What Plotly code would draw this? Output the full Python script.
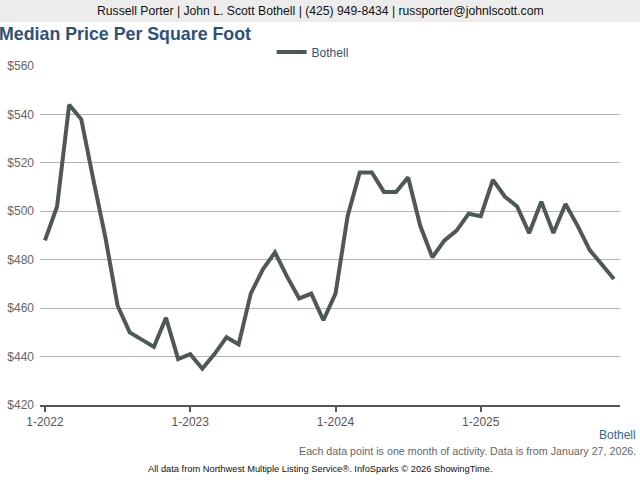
import plotly.graph_objects as go

months = [f"{m}-{y}" for y in range(2022, 2026) for m in range(1, 13)]
prices = [488, 502, 544, 538, 513, 489, 461, 450, 447, 444, 456, 439,
          441, 435, 441, 448, 445, 466, 476, 483, 473, 464, 466, 455,
          466, 498, 516, 516, 508, 508, 514, 494, 481, 488, 492, 499,
          498, 513, 506, 502, 491, 504, 491, 503, 494, 484, 478, 472]
tick_labels = ["1-2022", "1-2023", "1-2024", "1-2025"]
y_ticks = [420, 440, 460, 480, 500, 520, 540, 560]

idx = list(range(len(months)))
tick_idx = [months.index(t) for t in tick_labels]

fig = go.Figure()
fig.add_trace(go.Scatter(
    x=idx, y=prices, mode="lines", name="Bothell",
    line=dict(color="#4e5955", width=4),
    text=months, hovertemplate="%{text}: $%{y}<extra></extra>",
))

font = "Liberation Sans, Arial, sans-serif"
fig.update_layout(
    width=640, height=480,
    margin=dict(l=40, r=20, t=66, b=75, autoexpand=False),
    paper_bgcolor="white", plot_bgcolor="white",
    font=dict(family=font, size=12, color="#555555"),
    showlegend=True,
    legend=dict(orientation="h", x=0.47, xanchor="center", y=1.041, yanchor="middle",
                font=dict(size=12, color="#2f5179"), bgcolor="rgba(0,0,0,0)"),
    xaxis=dict(range=[-0.41, 47.5], tickvals=tick_idx, ticktext=tick_labels,
               showgrid=False, zeroline=False, showline=True, linecolor="#555555",
               linewidth=2, ticks="outside", ticklen=5, tickwidth=2, tickcolor="#555555",
               tickfont=dict(size=12, color="#555555"), automargin=False),
    yaxis=dict(range=[420, 560], tickvals=y_ticks,
               ticktext=[f"${v}" for v in y_ticks],
               showgrid=True, gridcolor="#b4b4b4", gridwidth=1, zeroline=False,
               showline=False, ticks="", tickfont=dict(size=12, color="#666666"),
               ticklabelstandoff=5, automargin=False),
    shapes=[dict(type="rect", xref="paper", yref="paper", x0=-0.07, x1=1.04,
                 y0=1.1298, y1=1.2, fillcolor="#ececec", line=dict(width=0), layer="below")],
    annotations=[
        dict(text="Russell Porter | John L. Scott Bothell | (425) 949-8434 | russporter@johnlscott.com",
             xref="paper", yref="paper", x=0.4828, y=1.1623, xanchor="center", yanchor="middle",
             showarrow=False, font=dict(size=12.2, color="#111111")),
        dict(text="<b>Median Price Per Square Foot</b>", xref="paper", yref="paper",
             x=-0.074, y=1.0944, xanchor="left", yanchor="middle", showarrow=False,
             font=dict(size=17.8, color="#2f5179")),
        dict(text="Bothell", xref="paper", yref="paper", x=1.031, y=-0.0885,
             xanchor="right", yanchor="middle", showarrow=False,
             font=dict(size=12, color="#3c6496")),
        dict(text="Each data point is one month of activity. Data is from January 27, 2026.",
             xref="paper", yref="paper", x=1.031, y=-0.1357, xanchor="right", yanchor="middle",
             showarrow=False, font=dict(size=10.7, color="#666666")),
        dict(text="All data from Northwest Multiple Listing Service®. InfoSparks © 2026 ShowingTime.",
             xref="paper", yref="paper", x=0.4828, y=-0.189, xanchor="center", yanchor="middle",
             showarrow=False, font=dict(size=9.3, color="#111111")),
    ],
)

fig.write_html("out.html", config={"displayModeBar": False},
               post_script="document.body.style.margin='0';document.body.style.overflow='hidden';")
